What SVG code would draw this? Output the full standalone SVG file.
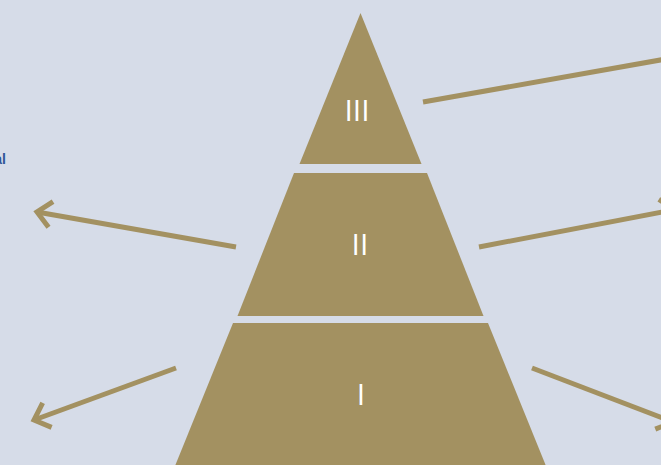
<svg xmlns="http://www.w3.org/2000/svg" width="661" height="465" viewBox="0 0 661 465">
  <style>
    .tier { fill: #A39161; }
    .num { fill: #FFFFFF; font-family: "Open Sans", "Liberation Sans", sans-serif; font-size: 30px; text-anchor: middle; }
    .conn { stroke: #A39161; stroke-width: 5; fill: none; }
    .lbl { fill: #2F5597; font-family: "Liberation Sans", Arial, sans-serif; font-size: 14px; font-weight: bold; }
  </style>
  <defs>
    <marker id="arrow" markerUnits="userSpaceOnUse" markerWidth="40" markerHeight="40" viewBox="-20 -20 40 40" refX="0" refY="0" orient="auto">
      <path d="M -14,-13 L 0,0 L -14,13" stroke="#A39161" stroke-width="5" fill="none" stroke-linecap="butt" stroke-linejoin="miter"/>
    </marker>
  </defs>
  <rect width="661" height="465" fill="#D6DCE8"/>
  <text class="lbl" x="6" y="164" text-anchor="end">al</text>
  <g id="tier3">
    <polygon class="tier" points="360.5,13 421.5,164 299.5,164"/>
    <text class="num" x="357" y="121">III</text>
  </g>
  <g id="tier2">
    <polygon class="tier" points="294,173 427,173 483.5,316 237.5,316"/>
    <text class="num" x="360" y="255">II</text>
  </g>
  <g id="tier1">
    <polygon class="tier" points="233,323 488,323 546,466 175,466"/>
    <text class="num" x="361" y="405">I</text>
  </g>
  <g id="connectors">
    <line class="conn" x1="423" y1="102" x2="700" y2="53"/>
    <line class="conn" x1="479" y1="247" x2="675" y2="209.5" marker-end="url(#arrow)"/>
    <line class="conn" x1="532" y1="368" x2="673" y2="422" marker-end="url(#arrow)"/>
    <line class="conn" x1="236" y1="247" x2="37" y2="212" marker-end="url(#arrow)"/>
    <line class="conn" x1="176" y1="368" x2="34" y2="420" marker-end="url(#arrow)"/>
  </g>
</svg>
